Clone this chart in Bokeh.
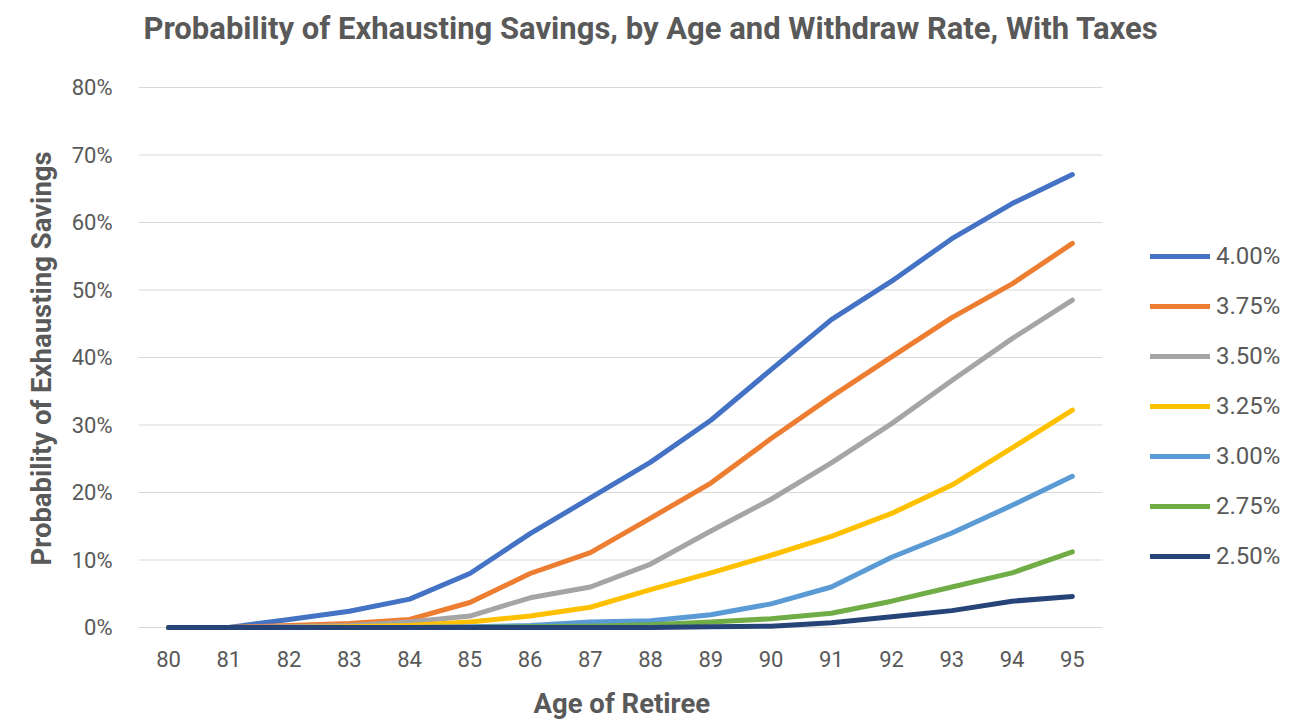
from bokeh.plotting import figure
from bokeh.models import Range1d, FixedTicker, Legend, LegendItem, Label, Title
from bokeh.embed import file_html
from bokeh.resources import INLINE

ages = [80, 81, 82, 83, 84, 85, 86, 87, 88, 89, 90, 91, 92, 93, 94, 95]
rate_labels = ["4.00%", "3.75%", "3.50%", "3.25%", "3.00%", "2.75%", "2.50%"]
r400 = [0, 0, 1.2, 2.4, 4.2, 8.0, 13.9, 19.2, 24.5, 30.7, 38.2, 45.6, 51.3, 57.6, 62.8, 67.1]
r375 = [0, 0, 0.3, 0.6, 1.2, 3.7, 8.0, 11.1, 16.2, 21.4, 28.0, 34.2, 40.1, 45.9, 50.9, 56.9]
r350 = [0, 0, 0.1, 0.3, 0.8, 1.7, 4.4, 6.0, 9.4, 14.3, 19.0, 24.4, 30.2, 36.6, 42.8, 48.5]
r325 = [0, 0, 0, 0.1, 0.3, 0.8, 1.7, 3.0, 5.6, 8.1, 10.7, 13.5, 16.9, 21.1, 26.6, 32.2]
r300 = [0, 0, 0, 0, 0, 0.1, 0.3, 0.8, 1.0, 1.9, 3.5, 6.0, 10.4, 14.0, 18.1, 22.4]
r275 = [0, 0, 0, 0, 0, 0, 0.1, 0.2, 0.4, 0.8, 1.3, 2.1, 3.9, 6.0, 8.1, 11.2]
r250 = [0, 0, 0, 0, 0, 0, 0, 0, 0, 0.1, 0.2, 0.7, 1.6, 2.5, 3.9, 4.6]
series = [r400, r375, r350, r325, r300, r275, r250]
colors = ["#4472C4", "#ED7D31", "#A5A5A5", "#FFC000", "#5B9BD5", "#70AD47", "#264478"]
y_ticks = [0, 10, 20, 30, 40, 50, 60, 70, 80]
title_text = "Probability of Exhausting Savings, by Age and Withdraw Rate, With Taxes"
x_title = "Age of Retiree"
y_title = "Probability of Exhausting Savings"

TXT = "#595959"
FONT = "Roboto"

x_lo, x_hi = ages[0] - 0.5, ages[-1] + 0.5
# the plot frame spans the whole canvas right of the y axis and above the x axis;
# the data area is its lower-left part, the legend and title sit in the rest
PX_PER_YEAR = 60.25
PX_PER_PCT = 6.75
frame_w = 1290 - 138
frame_h = 630
x_range = Range1d(x_lo, x_lo + frame_w / PX_PER_YEAR)
y_range = Range1d(-3 / PX_PER_PCT, (frame_h - 3) / PX_PER_PCT)

p = figure(width=1290, height=720, output_backend="svg", toolbar_location=None,
           x_range=x_range, y_range=y_range,
           min_border_left=138, min_border_right=0, min_border_top=0, min_border_bottom=90)
p.title = None
p.outline_line_color = None
p.background_fill_color = "white"
p.border_fill_color = "white"

p.xaxis.ticker = FixedTicker(ticks=ages)
p.yaxis.ticker = FixedTicker(ticks=y_ticks)
p.yaxis.major_label_overrides = {t: f"{t}%" for t in y_ticks}
for ax in (p.xaxis[0], p.yaxis[0]):
    ax.axis_line_color = None
    ax.major_tick_line_color = None
    ax.minor_tick_line_color = None
    ax.major_label_text_font = FONT
    ax.major_label_text_font_size = "22px"
    ax.major_label_text_color = TXT
p.xaxis.major_label_standoff = 14
p.yaxis.major_label_standoff = 20
# small blank axis label only reserves room between tick labels and the axis title
p.xaxis.axis_label = " "
p.xaxis.axis_label_text_font_size = "10px"
p.xaxis.axis_label_standoff = 1
p.yaxis.axis_label = None

# axis titles, positioned along the data area (not the whole frame)
p.add_layout(Title(text=x_title, text_font=FONT, text_font_size="27.5px",
                   text_font_style="bold", text_color=TXT, align="left",
                   offset=395, standoff=0), "below")
p.add_layout(Title(text=y_title, text_font=FONT, text_font_size="27.5px",
                   text_font_style="bold", text_color=TXT, align="left",
                   offset=65, standoff=22), "left")

p.xgrid.grid_line_color = None
p.ygrid.grid_line_color = None
p.segment(x0=[x_lo] * len(y_ticks), y0=y_ticks, x1=[x_hi] * len(y_ticks), y1=y_ticks,
          line_color="#D9D9D9", line_width=1)

items = []
for lab, vals, col in zip(rate_labels, series, colors):
    r = p.line(ages, vals, line_color=col, line_width=5, line_cap="round", line_join="round")
    items.append(LegendItem(label=lab, renderers=[r]))

legend = Legend(items=items, location=(1012, 60), padding=0, margin=0,
                border_line_color=None, background_fill_alpha=0,
                glyph_width=60, glyph_height=28, label_height=28, label_standoff=6,
                spacing=22, label_text_font=FONT, label_text_font_size="24px",
                label_text_color=TXT)
p.add_layout(legend)

p.add_layout(Label(x=5, y=frame_h - 28, x_units="screen", y_units="screen",
                   text=title_text, text_font=FONT, text_font_size="31px",
                   text_font_style="bold", text_color=TXT,
                   text_align="left", text_baseline="middle"))

open("out.html", "w").write(file_html(p, INLINE))
